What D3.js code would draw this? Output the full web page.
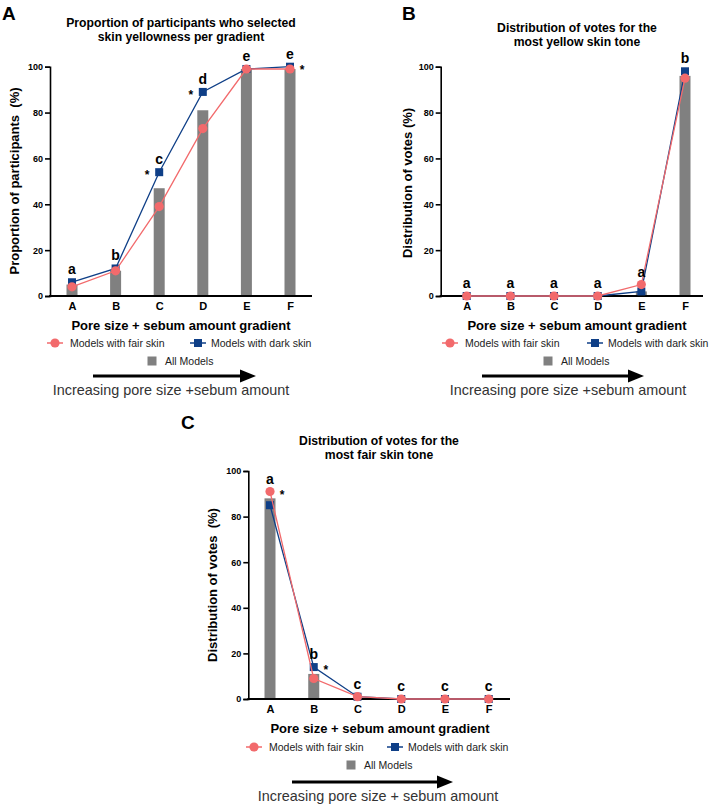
<!DOCTYPE html>
<html>
<head>
<meta charset="utf-8">
<script src="https://cdn.jsdelivr.net/npm/d3@7"></script>
<style>
  body { margin: 0; background: #fff; }
  svg { font-family: "Liberation Sans", Arial, sans-serif; }
</style>
</head>
<body>
<svg id="fig" width="709" height="805"></svg>
<script>
// data
const categories = ["A", "B", "C", "D", "E", "F"];
const yTicks = [0, 20, 40, 60, 80, 100];

const allA  = [5, 11, 47, 81, 99, 99];
const darkA = [6, 12, 54, 89, 99, 100];
const fairA = [4, 11, 39, 73, 99, 99];
const lettersA = ["a", "b", "c", "d", "e", "e"];
const starsA = ["", "", "*", "*", "", "*"];

const allB  = [0, 0, 0, 0, 2, 96];
const darkB = [0, 0, 0, 0, 2, 98];
const fairB = [0, 0, 0, 0, 5, 95];
const lettersB = ["a", "a", "a", "a", "a", "b"];
const starsB = ["", "", "", "", "", ""];

const allC  = [88, 11, 0, 0, 0, 0];
const darkC = [85, 14, 1, 0, 0, 0];
const fairC = [91, 9, 1, 0, 0, 0];
const lettersC = ["a", "b", "c", "c", "c", "c"];
const starsC = ["*", "*", "", "", "", ""];

const blue = "#0f3f87", pink = "#f26a6c", grey = "#808080";

const svg = d3.select("#fig");

function panel(cfg) {
  const g = svg.append("g");
  const x = d3.scalePoint().domain(categories).range([cfg.x0, cfg.x1]);
  const y = d3.scaleLinear().domain([0, 100]).range([cfg.yb, cfg.yt]);

  // panel letter + title
  g.append("text").attr("x", cfg.tag[0]).attr("y", cfg.tag[1])
    .attr("font-size", 19).attr("font-weight", "bold").text(cfg.tagText);
  g.selectAll("text.title").data(cfg.title).join("text")
    .attr("class", "title")
    .attr("x", cfg.titleX).attr("y", (d, i) => cfg.titleY + i * 14)
    .attr("text-anchor", "middle").attr("font-size", 12.2).attr("font-weight", "bold")
    .text(d => d);

  // bars
  g.selectAll("rect.bar").data(cfg.all).join("rect")
    .attr("class", "bar")
    .attr("x", (d, i) => x(categories[i]) - 5.5)
    .attr("y", d => y(d))
    .attr("width", 11)
    .attr("height", d => y(0) - y(d))
    .attr("fill", grey);

  // y axis
  const ya = g.append("g").attr("transform", `translate(${cfg.ax},0)`)
    .call(d3.axisLeft(y).tickValues(yTicks).tickSize(5).tickPadding(2));
  ya.selectAll("path, line").attr("stroke", "#000").attr("stroke-width", 1.6);
  ya.selectAll("text").attr("font-size", 9).attr("font-weight", "bold").attr("fill", "#000");

  // x axis
  const xa = g.append("g").attr("transform", `translate(0,${cfg.yb})`)
    .call(d3.axisBottom(x).tickSize(0).tickPadding(6));
  xa.select(".domain").remove();
  xa.selectAll("text").attr("font-size", 11).attr("font-weight", "bold").attr("fill", "#000");
  g.append("line").attr("x1", cfg.ax - 1).attr("x2", cfg.axEnd)
    .attr("y1", cfg.yb).attr("y2", cfg.yb)
    .attr("stroke", "#000").attr("stroke-width", 1.8);

  // axis titles
  g.append("text")
    .attr("transform", `translate(${cfg.yLabX},${cfg.yLabY}) rotate(-90)`)
    .attr("text-anchor", "middle").attr("font-size", 13).attr("font-weight", "bold")
    .style("white-space", "pre")
    .text(cfg.yLabel);
  g.append("text").attr("x", cfg.xLabX).attr("y", cfg.yb + 34)
    .attr("text-anchor", "middle").attr("font-size", 13).attr("font-weight", "bold")
    .text("Pore size + sebum amount gradient");

  // lines
  const line = d3.line().x((d, i) => x(categories[i])).y(d => y(d));
  g.append("path").datum(cfg.dark).attr("d", line)
    .attr("fill", "none").attr("stroke", blue).attr("stroke-width", 1.3);
  g.selectAll("rect.dark").data(cfg.dark).join("rect")
    .attr("class", "dark")
    .attr("x", (d, i) => x(categories[i]) - 4)
    .attr("y", d => y(d) - 4)
    .attr("width", 8).attr("height", 8).attr("fill", blue);
  g.append("path").datum(cfg.fair).attr("d", line)
    .attr("fill", "none").attr("stroke", pink).attr("stroke-width", 1.3);
  g.selectAll("circle.fair").data(cfg.fair).join("circle")
    .attr("class", "fair")
    .attr("cx", (d, i) => x(categories[i]))
    .attr("cy", d => y(d))
    .attr("r", 4.6).attr("fill", pink);

  // significance letters
  g.selectAll("text.letter").data(cfg.letters).join("text")
    .attr("class", "letter")
    .attr("x", (d, i) => x(categories[i]))
    .attr("y", (d, i) => y(Math.max(cfg.dark[i], cfg.fair[i])) - 8)
    .attr("text-anchor", "middle").attr("font-size", 14).attr("font-weight", "bold")
    .text(d => d);

  // stars
  g.selectAll("text.star").data(cfg.stars).join("text")
    .attr("class", "star")
    .attr("x", (d, i) => x(categories[i]) + cfg.starSide[i] * 12)
    .attr("y", (d, i) => y(cfg.starOn[i] === "d" ? cfg.dark[i] : cfg.fair[i]) + 7)
    .attr("text-anchor", "middle").attr("font-size", 12).attr("font-weight", "bold")
    .text(d => d);

  // legend
  const L = cfg.legend;
  const lg = g.append("g");
  lg.append("line").attr("x1", L.fair - 8).attr("x2", L.fair + 8)
    .attr("y1", L.y1).attr("y2", L.y1).attr("stroke", pink).attr("stroke-width", 1.5);
  lg.append("circle").attr("cx", L.fair).attr("cy", L.y1).attr("r", 4.6).attr("fill", pink);
  lg.append("text").attr("x", L.fair + 15).attr("y", L.y1 + 3.8)
    .attr("font-size", 10.5).attr("fill", "#222").text("Models with fair skin");
  lg.append("line").attr("x1", L.dark - 8).attr("x2", L.dark + 8)
    .attr("y1", L.y1).attr("y2", L.y1).attr("stroke", blue).attr("stroke-width", 1.5);
  lg.append("rect").attr("x", L.dark - 4).attr("y", L.y1 - 4)
    .attr("width", 8).attr("height", 8).attr("fill", blue);
  lg.append("text").attr("x", L.dark + 13).attr("y", L.y1 + 3.8)
    .attr("font-size", 10.5).attr("fill", "#222").text("Models with dark skin");
  lg.append("rect").attr("x", L.all - 4.5).attr("y", L.y1 + 13.5)
    .attr("width", 9).attr("height", 9).attr("fill", grey);
  lg.append("text").attr("x", L.all + 13).attr("y", L.y1 + 21.8)
    .attr("font-size", 10.5).attr("fill", "#222").text("All Models");

  // arrow
  const A = cfg.arrow;
  g.append("line").attr("x1", A.x1).attr("x2", A.x2 - 14)
    .attr("y1", A.y).attr("y2", A.y).attr("stroke", "#000").attr("stroke-width", 3);
  g.append("path")
    .attr("d", `M${A.x2 - 16},${A.y - 6.5} L${A.x2},${A.y} L${A.x2 - 16},${A.y + 6.5} Z`)
    .attr("fill", "#000");
  g.append("text").attr("x", A.tx).attr("y", A.y + 19)
    .attr("text-anchor", "middle").attr("font-size", 14.4).attr("fill", "#333")
    .text(A.text);
}

panel({
  tagText: "A", tag: [2, 20],
  title: ["Proportion of participants who selected", "skin yellowness per gradient"],
  titleX: 181, titleY: 27,
  x0: 72, x1: 290, ax: 50, axEnd: 312, yb: 296, yt: 66.7,
  all: allA, dark: darkA, fair: fairA, letters: lettersA, stars: starsA,
  starSide: [0, 0, -1, -1, 0, 1], starOn: ["", "", "d", "d", "", "d"],
  yLabel: "Proportion of participants  (%)", yLabX: 19, yLabY: 181,
  xLabX: 181,
  legend: { y1: 343, fair: 55, dark: 198, all: 152 },
  arrow: { x1: 93, x2: 256, y: 376, tx: 171, text: "Increasing pore size +sebum amount" }
});

panel({
  tagText: "B", tag: [402, 20],
  title: ["Distribution of votes for the", "most yellow skin tone"],
  titleX: 577, titleY: 32,
  x0: 466.7, x1: 685, ax: 440.7, axEnd: 703, yb: 296, yt: 66.7,
  all: allB, dark: darkB, fair: fairB, letters: lettersB, stars: starsB,
  starSide: [0, 0, 0, 0, 0, 0], starOn: ["", "", "", "", "", ""],
  yLabel: "Distribution of votes (%)", yLabX: 412, yLabY: 183,
  xLabX: 577,
  legend: { y1: 343, fair: 450, dark: 595, all: 548 },
  arrow: { x1: 482, x2: 644, y: 376, tx: 568, text: "Increasing pore size +sebum amount" }
});

panel({
  tagText: "C", tag: [181, 429],
  title: ["Distribution of votes for the", "most fair skin tone"],
  titleX: 379, titleY: 445,
  x0: 270, x1: 488.7, ax: 248.3, axEnd: 510, yb: 699, yt: 471,
  all: allC, dark: darkC, fair: fairC, letters: lettersC, stars: starsC,
  starSide: [1, 1, 0, 0, 0, 0], starOn: ["f", "d", "", "", "", ""],
  yLabel: "Distribution of votes  (%)", yLabX: 217, yLabY: 585,
  xLabX: 380,
  legend: { y1: 747, fair: 254, dark: 395, all: 351 },
  arrow: { x1: 292, x2: 453, y: 782, tx: 378, text: "Increasing pore size + sebum amount" }
});
</script>
</body>
</html>
